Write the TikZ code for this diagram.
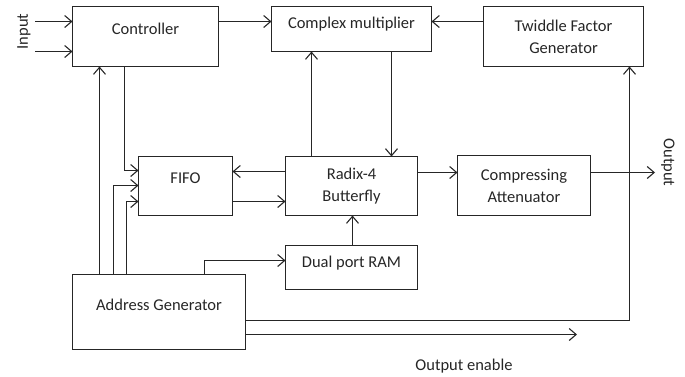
\documentclass[tikz,border=0pt]{standalone}
\usepackage{fontspec}
\setmainfont{Carlito}
\usetikzlibrary{arrows.meta}
\begin{document}
\begin{tikzpicture}[x=1pt,y=-1pt,
  txt/.style={font=\fontsize{16.5}{22}\selectfont, text=black!85},
  bx/.style={draw=black!85, line width=1.1pt, inner sep=0pt, outer sep=0pt, txt, align=center},
  arr/.style={draw=black!85, line width=1.1pt, -{Straight Barb[length=7pt,width=12pt,line width=1.1pt]}},
  ln/.style={draw=black!85, line width=1.1pt}]
\useasboundingbox (0,0) rectangle (685,376);
% boxes
\node[bx, anchor=north west, minimum width=146pt, text height=28.3pt, text depth=31.7pt] (ctrl) at (72.5,6.5) {Controller};
\node[bx, anchor=north west, minimum width=160pt, text height=22.3pt, text depth=22.7pt] (cmul) at (271.5,6.5) {Complex multiplier};
\node[bx, minimum width=160pt, minimum height=60pt] (twid) at (563.5,36.5) {Twiddle Factor\\Generator};
\node[bx, anchor=north west, minimum width=94pt, text height=26.8pt, text depth=32.2pt] (fifo) at (138.5,156.5) {FIFO};
\node[bx, minimum width=132pt, minimum height=59pt] (bfly) at (351.5,186) {Radix-4\\Butterfly};
\node[bx, anchor=north west, minimum width=132pt, text height=21.8pt, text depth=22.2pt] (ram) at (285.5,245.5) {Dual port RAM};
\node[bx, anchor=north west, minimum width=173pt, text height=36.3pt, text depth=38.7pt] (addr) at (72.5,274.5) {Address Generator};
\node[bx, minimum width=133pt, minimum height=60pt] (comp) at (524,185.5) {Compressing\\Attenuator};
% free ends
\coordinate (in1) at (35,21.5);
\coordinate (in2) at (35,51.5);
\coordinate (out) at (655,172.5);
\coordinate (oe) at (577,334.5);
% labels
\node[txt, rotate=90] (inlbl) at (24,31.5) {Input};
\node[txt, rotate=-90] (outlbl) at (668,162.5) {Output};
\node[txt, anchor=base] (oelbl) at (464,370.5) {Output enable};
% connectors
\draw[arr] (in1) -- (ctrl.west |- in1);
\draw[arr] (in2) -- (ctrl.west |- in2);
\draw[arr] (ctrl.east |- 0,21.5) -- (cmul.west |- 0,21.5);
\draw[arr] (twid.west |- 0,21.5) -- (cmul.east |- 0,21.5);
\draw[arr] (bfly.north -| 311.5,0) -- (cmul.south -| 311.5,0);
\draw[arr] (cmul.south -| 391.5,0) -- (bfly.north -| 391.5,0);
\draw[arr] (bfly.west |- 0,171.5) -- (fifo.east |- 0,171.5);
\draw[arr] (fifo.east |- 0,201.5) -- (bfly.west |- 0,201.5);
\draw[arr] (bfly.east |- 0,172.5) -- (comp.west |- 0,172.5);
\draw[arr] (comp.east |- out) -- (out);
\draw[arr] (ctrl.south -| 124.5,0) |- (fifo.west |- 0,170.5);
\draw[arr] (addr.north -| 99.5,0) -- (ctrl.south -| 99.5,0);
\draw[arr] (addr.north -| 113.5,0) |- (fifo.west |- 0,185.5);
\draw[arr] (addr.north -| 126.5,0) |- (fifo.west |- 0,201.5);
\draw[arr] (addr.north -| 204.5,0) |- (ram.west |- 0,260.5);
\draw[arr] (ram.north -| 352.5,0) -- (bfly.south -| 352.5,0);
\draw[arr] (addr.east |- 0,320.5) -| (twid.south -| 629.5,0);
\draw[arr] (addr.east |- oe) -- (oe);
\end{tikzpicture}
\end{document}
